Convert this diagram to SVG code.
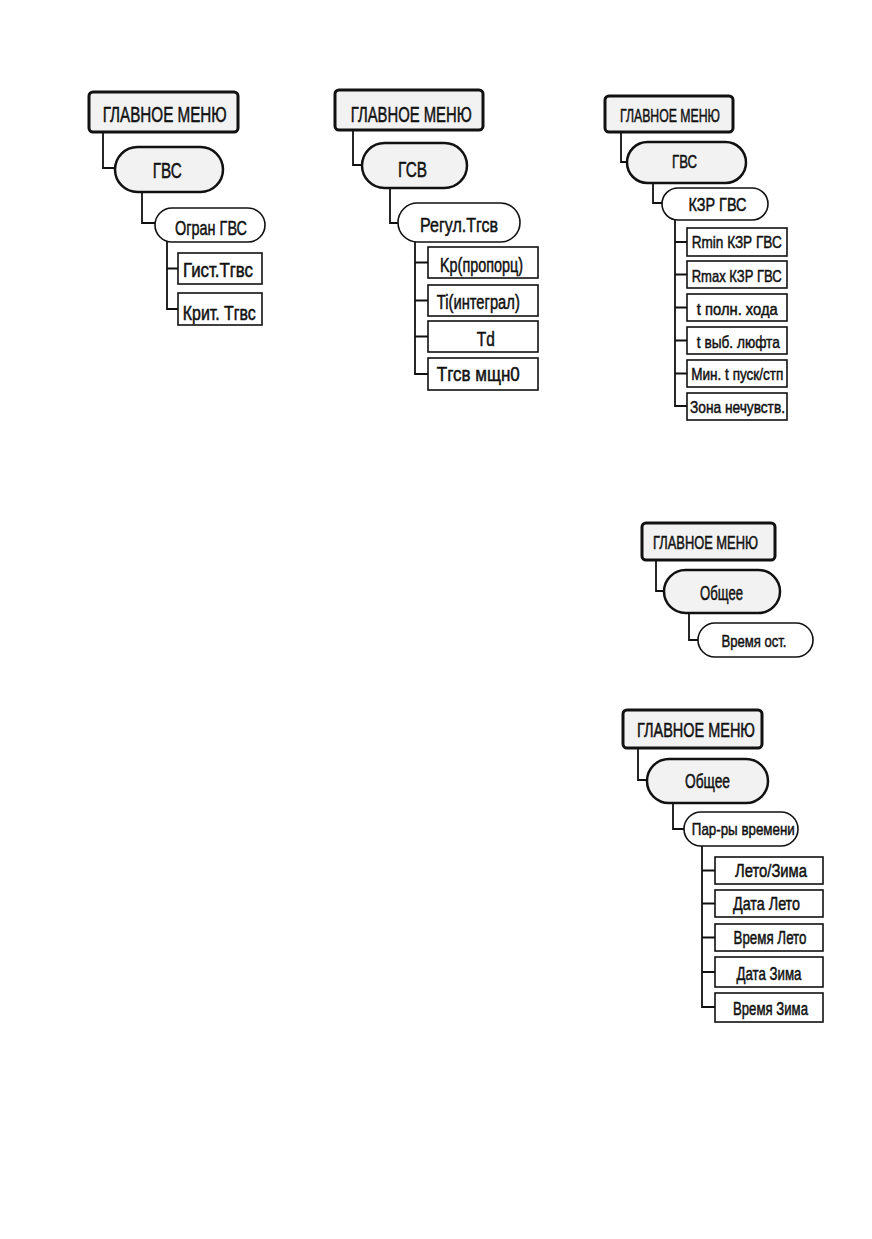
<svg xmlns="http://www.w3.org/2000/svg" width="872" height="1239" viewBox="0 0 872 1239">
<style>
text{font-family:"Liberation Sans Narrow","Liberation Sans",Arial,sans-serif;text-anchor:middle;fill:#111;stroke:#111;stroke-width:0.5}
.root{fill:#f2f2f2;stroke:#111;stroke-width:3}
.p1{fill:#f2f2f2;stroke:#111;stroke-width:2.5}
.p2{fill:#fff;stroke:#111;stroke-width:1.6}
.leaf{fill:#fff;stroke:#111;stroke-width:1.6}
.con path{fill:none;stroke:#111;stroke-width:1.8}
</style>
<rect width="872" height="1239" fill="#fff"/>
<g class="con" id="connectors">
<path d="M103 132V168H115M142 192V223H155M167 242V309H178M167 268.5H178"/>
<path d="M353 130V165H362M390 188V223H398M415 242V374H428M415 262.5H428M415 300.5H428M415 336.5H428"/>
<path d="M621 132V162H627M653 183V203H662M675 220V406H687M675 242H687M675 274.5H687M675 307.5H687M675 340.5H687M675 373.5H687"/>
<path d="M656 560V591H664M689 613V640H698"/>
<path d="M638 748V780H647M673 803V829H684M702 846V1007H715M702 870.5H715M702 903.5H715M702 937.5H715M702 972H715"/>
</g>
<!-- Diagram 1 -->
<g id="d1-root"><rect class="root" x="89" y="92" width="149" height="40" rx="4"/><text x="164.7" y="121.7" font-size="22" textLength="124" lengthAdjust="spacingAndGlyphs">ГЛАВНОЕ МЕНЮ</text></g>
<g id="d1-gvs"><rect class="p1" x="115" y="147" width="108" height="45" rx="22.5"/><text x="167.2" y="178" font-size="22" textLength="29" lengthAdjust="spacingAndGlyphs">ГВС</text></g>
<g id="d1-ogran"><rect class="p2" x="155" y="208" width="110" height="34" rx="17"/><text x="211" y="235" font-size="21" textLength="72" lengthAdjust="spacingAndGlyphs">Огран ГВС</text></g>
<g id="d1-gist"><rect class="leaf" x="178" y="253" width="84" height="31"/><text x="218" y="276.5" font-size="19.5" textLength="70" lengthAdjust="spacingAndGlyphs">Гист.Тгвс</text></g>
<g id="d1-krit"><rect class="leaf" x="178" y="293" width="84" height="32"/><text x="219.3" y="319.5" font-size="19.5" textLength="73" lengthAdjust="spacingAndGlyphs">Крит. Тгвс</text></g>
<!-- Diagram 2 -->
<g id="d2-root"><rect class="root" x="335" y="90" width="148" height="40" rx="4"/><text x="411.2" y="121.7" font-size="22" textLength="121" lengthAdjust="spacingAndGlyphs">ГЛАВНОЕ МЕНЮ</text></g>
<g id="d2-gsv"><rect class="p1" x="362" y="143" width="105" height="45" rx="22.5"/><text x="412.5" y="176.7" font-size="22" textLength="29" lengthAdjust="spacingAndGlyphs">ГСВ</text></g>
<g id="d2-regul"><rect class="p2" x="398" y="203" width="122" height="39" rx="19.5"/><text x="459" y="231.5" font-size="21" textLength="78" lengthAdjust="spacingAndGlyphs">Регул.Тгсв</text></g>
<g id="d2-kp"><rect class="leaf" x="428" y="247" width="110" height="31"/><text x="481.5" y="272" font-size="19.5" textLength="83" lengthAdjust="spacingAndGlyphs">Kp(пропорц)</text></g>
<g id="d2-ti"><rect class="leaf" x="428" y="285" width="110" height="31"/><text x="478.3" y="308.5" font-size="19.5" textLength="83" lengthAdjust="spacingAndGlyphs">Ti(интеграл)</text></g>
<g id="d2-td"><rect class="leaf" x="428" y="321" width="110" height="31"/><text x="485.8" y="345.5" font-size="19.5" textLength="18" lengthAdjust="spacingAndGlyphs">Td</text></g>
<g id="d2-tgsv"><rect class="leaf" x="428" y="358" width="110" height="32"/><text x="478.3" y="381" font-size="19.5" textLength="83" lengthAdjust="spacingAndGlyphs">Тгсв мщн0</text></g>
<!-- Diagram 3 -->
<g id="d3-root"><rect class="root" x="605" y="96" width="128" height="36" rx="4"/><text x="670" y="122" font-size="19" textLength="100" lengthAdjust="spacingAndGlyphs">ГЛАВНОЕ МЕНЮ</text></g>
<g id="d3-gvs"><rect class="p1" x="627" y="142" width="119" height="41" rx="20.5"/><text x="684.5" y="168" font-size="19" textLength="25" lengthAdjust="spacingAndGlyphs">ГВС</text></g>
<g id="d3-kzr"><rect class="p2" x="662" y="188" width="106" height="32" rx="16"/><text x="717.5" y="211" font-size="18.5" textLength="58" lengthAdjust="spacingAndGlyphs">КЗР ГВС</text></g>
<g id="d3-rmin"><rect class="leaf" x="687" y="228" width="100" height="28"/><text x="736.7" y="248" font-size="17" textLength="90" lengthAdjust="spacingAndGlyphs">Rmin КЗР ГВС</text></g>
<g id="d3-rmax"><rect class="leaf" x="687" y="261" width="100" height="27"/><text x="736.7" y="281.7" font-size="17" textLength="90" lengthAdjust="spacingAndGlyphs">Rmax КЗР ГВС</text></g>
<g id="d3-tpoln"><rect class="leaf" x="687" y="294" width="100" height="27"/><text x="737.3" y="315" font-size="17" textLength="81" lengthAdjust="spacingAndGlyphs">t полн. хода</text></g>
<g id="d3-tvyb"><rect class="leaf" x="687" y="327" width="100" height="27"/><text x="738.3" y="348.3" font-size="17" textLength="83" lengthAdjust="spacingAndGlyphs">t выб. люфта</text></g>
<g id="d3-min"><rect class="leaf" x="687" y="360" width="100" height="27"/><text x="737.3" y="380" font-size="17" textLength="92" lengthAdjust="spacingAndGlyphs">Мин. t пуск/стп</text></g>
<g id="d3-zona"><rect class="leaf" x="687" y="393" width="100" height="27"/><text x="737.5" y="413" font-size="17" textLength="95" lengthAdjust="spacingAndGlyphs">Зона нечувств.</text></g>
<!-- Diagram 4 -->
<g id="d4-root"><rect class="root" x="642" y="523" width="133" height="37" rx="4"/><text x="705.5" y="549" font-size="18" textLength="105" lengthAdjust="spacingAndGlyphs">ГЛАВНОЕ МЕНЮ</text></g>
<g id="d4-obshee"><rect class="p1" x="664" y="570" width="116" height="43" rx="21.5"/><text x="721.5" y="600" font-size="20" textLength="43" lengthAdjust="spacingAndGlyphs">Общее</text></g>
<g id="d4-vremya"><rect class="p2" x="698" y="623" width="115" height="34" rx="17"/><text x="754" y="646.7" font-size="17" textLength="65" lengthAdjust="spacingAndGlyphs">Время ост.</text></g>
<!-- Diagram 5 -->
<g id="d5-root"><rect class="root" x="623" y="710" width="139" height="38" rx="4"/><text x="696" y="736.7" font-size="20" textLength="118" lengthAdjust="spacingAndGlyphs">ГЛАВНОЕ МЕНЮ</text></g>
<g id="d5-obshee"><rect class="p1" x="647" y="759" width="121" height="44" rx="22"/><text x="707.5" y="788" font-size="20" textLength="45" lengthAdjust="spacingAndGlyphs">Общее</text></g>
<g id="d5-par"><rect class="p2" x="684" y="812" width="114" height="34" rx="17"/><text x="743.3" y="835" font-size="17" textLength="103" lengthAdjust="spacingAndGlyphs">Пар-ры времени</text></g>
<g id="d5-letozima"><rect class="leaf" x="715" y="857" width="108" height="27"/><text x="771" y="876.7" font-size="18" textLength="72" lengthAdjust="spacingAndGlyphs">Лето/Зима</text></g>
<g id="d5-datal"><rect class="leaf" x="715" y="890" width="108" height="27"/><text x="766.5" y="910" font-size="18" textLength="67" lengthAdjust="spacingAndGlyphs">Дата Лето</text></g>
<g id="d5-vremyal"><rect class="leaf" x="715" y="924" width="108" height="27"/><text x="770" y="944.3" font-size="18" textLength="73" lengthAdjust="spacingAndGlyphs">Время Лето</text></g>
<g id="d5-dataz"><rect class="leaf" x="715" y="957" width="108" height="30"/><text x="769" y="980" font-size="18" textLength="65" lengthAdjust="spacingAndGlyphs">Дата Зима</text></g>
<g id="d5-vremyaz"><rect class="leaf" x="715" y="993" width="108" height="29"/><text x="770.5" y="1015" font-size="18" textLength="75" lengthAdjust="spacingAndGlyphs">Время Зима</text></g>
</svg>
